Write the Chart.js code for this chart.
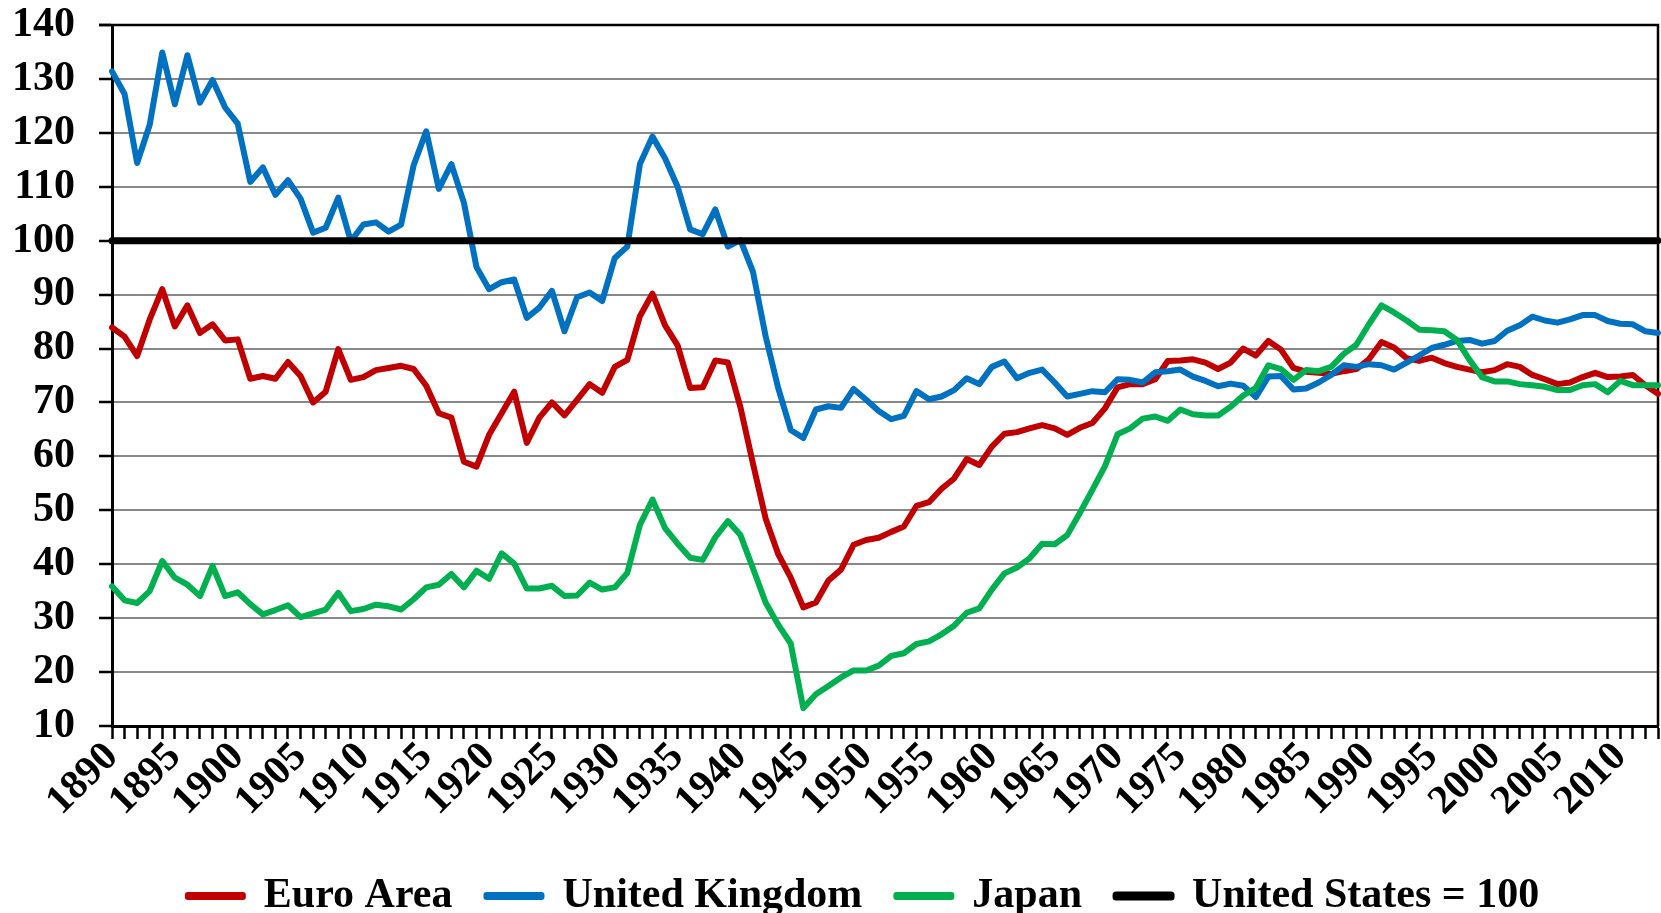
<!DOCTYPE html>
<html>
<head>
<meta charset="utf-8">
<script src="https://cdn.jsdelivr.net/npm/chart.js@4/dist/chart.umd.min.js"></script>
<style>
  body { margin: 0; background: #fff; }
  #wrap { width: 1661px; height: 913px; }
</style>
</head>
<body>
<div id="wrap"><canvas id="chart"></canvas></div>
<script>
// Années (axe des x)
const years = [
  1890, 1891, 1892, 1893, 1894, 1895, 1896, 1897, 1898, 1899,
  1900, 1901, 1902, 1903, 1904, 1905, 1906, 1907, 1908, 1909,
  1910, 1911, 1912, 1913, 1914, 1915, 1916, 1917, 1918, 1919,
  1920, 1921, 1922, 1923, 1924, 1925, 1926, 1927, 1928, 1929,
  1930, 1931, 1932, 1933, 1934, 1935, 1936, 1937, 1938, 1939,
  1940, 1941, 1942, 1943, 1944, 1945, 1946, 1947, 1948, 1949,
  1950, 1951, 1952, 1953, 1954, 1955, 1956, 1957, 1958, 1959,
  1960, 1961, 1962, 1963, 1964, 1965, 1966, 1967, 1968, 1969,
  1970, 1971, 1972, 1973, 1974, 1975, 1976, 1977, 1978, 1979,
  1980, 1981, 1982, 1983, 1984, 1985, 1986, 1987, 1988, 1989,
  1990, 1991, 1992, 1993, 1994, 1995, 1996, 1997, 1998, 1999,
  2000, 2001, 2002, 2003, 2004, 2005, 2006, 2007, 2008, 2009,
  2010, 2011, 2012, 2013
];

// Séries (États-Unis = 100)
const euroArea = [
  83.9, 82.2, 78.6, 85.4, 91.0, 84.1, 88.0, 82.9, 84.5, 81.5,
  81.7, 74.4, 74.9, 74.4, 77.5, 74.9, 70.0, 72.0, 79.9, 74.2,
  74.7, 76.0, 76.4, 76.8, 76.2, 73.1, 68.0, 67.2, 59.0, 58.1,
  64.0, 68.0, 72.0, 62.5, 67.2, 70.0, 67.6, 70.5, 73.4, 71.8,
  76.6, 77.9, 86.0, 90.2, 84.3, 80.6, 72.7, 72.8, 77.8, 77.4,
  69.1, 58.6, 48.5, 41.9, 37.5, 32.0, 32.9, 37.0, 39.0, 43.6,
  44.5, 44.9, 46.0, 47.0, 50.8, 51.5, 54.0, 55.9, 59.5, 58.4,
  61.8, 64.2, 64.5, 65.2, 65.8, 65.2, 64.0, 65.3, 66.2, 68.9,
  72.8, 73.4, 73.4, 74.3, 77.7, 77.8, 78.0, 77.4, 76.2, 77.4,
  80.0, 78.7, 81.4, 79.8, 76.4, 75.7, 75.5, 75.3, 75.8, 76.2,
  78.0, 81.2, 80.2, 78.2, 77.7, 78.3, 77.3, 76.6, 76.1, 75.6,
  76.0, 77.1, 76.6, 75.1, 74.3, 73.4, 73.7, 74.7, 75.5, 74.7,
  74.8, 75.1, 73.2, 71.6
];

const unitedKingdom = [
  131.4, 127.2, 114.4, 121.5, 134.9, 125.3, 134.4, 125.6, 129.8, 124.7,
  121.7, 110.9, 113.6, 108.5, 111.2, 107.8, 101.5, 102.4, 108.0, 99.9,
  103.0, 103.4, 101.7, 103.0, 114.0, 120.3, 109.6, 114.2, 107.0, 95.1,
  91.0, 92.3, 92.8, 85.7, 87.6, 90.7, 83.2, 89.5, 90.4, 88.8,
  96.8, 98.9, 114.2, 119.3, 115.3, 110.0, 102.1, 101.2, 105.8, 98.9,
  100.1, 94.2, 82.3, 72.7, 64.9, 63.4, 68.7, 69.3, 69.0, 72.5,
  70.5, 68.4, 66.9, 67.5, 72.1, 70.6, 71.1, 72.3, 74.5, 73.4,
  76.6, 77.6, 74.5, 75.5, 76.1, 73.7, 71.1, 71.6, 72.1, 71.9,
  74.3, 74.2, 73.7, 75.6, 75.8, 76.1, 74.8, 74.0, 73.0, 73.5,
  73.1, 71.0, 74.8, 74.9, 72.4, 72.6, 73.7, 75.1, 76.9, 76.6,
  77.1, 76.9, 76.1, 77.4, 78.7, 80.1, 80.7, 81.4, 81.6, 80.9,
  81.4, 83.3, 84.3, 85.9, 85.2, 84.8, 85.4, 86.2, 86.2, 85.1,
  84.6, 84.5, 83.2, 82.9
];

const japan = [
  35.9, 33.3, 32.8, 35.0, 40.6, 37.5, 36.2, 34.1, 39.7, 34.1,
  34.8, 32.6, 30.7, 31.5, 32.4, 30.2, 30.9, 31.6, 34.7, 31.3,
  31.7, 32.5, 32.2, 31.6, 33.5, 35.7, 36.2, 38.2, 35.7, 38.8,
  37.3, 42.0, 40.1, 35.5, 35.5, 36.0, 34.1, 34.2, 36.6, 35.3,
  35.7, 38.4, 47.3, 52.0, 46.7, 43.8, 41.2, 40.8, 45.0, 48.0,
  45.4, 39.2, 32.9, 28.8, 25.3, 13.3, 15.9, 17.4, 19.0, 20.3,
  20.3, 21.2, 23.0, 23.5, 25.2, 25.7, 27.0, 28.6, 31.0, 31.8,
  35.3, 38.3, 39.4, 41.1, 43.8, 43.7, 45.4, 49.5, 53.8, 58.2,
  64.1, 65.2, 67.0, 67.4, 66.6, 68.7, 67.8, 67.6, 67.6, 69.2,
  71.3, 72.7, 76.9, 76.2, 74.2, 76.0, 75.8, 76.6, 79.0, 80.7,
  84.5, 88.0, 86.7, 85.2, 83.5, 83.4, 83.2, 81.6, 77.9, 74.7,
  73.9, 73.9, 73.4, 73.2, 72.9, 72.3, 72.3, 73.2, 73.4, 71.9,
  74.0, 73.2, 73.2, 73.2
];

const unitedStates = [
  100, 100, 100, 100, 100, 100, 100, 100, 100, 100,
  100, 100, 100, 100, 100, 100, 100, 100, 100, 100,
  100, 100, 100, 100, 100, 100, 100, 100, 100, 100,
  100, 100, 100, 100, 100, 100, 100, 100, 100, 100,
  100, 100, 100, 100, 100, 100, 100, 100, 100, 100,
  100, 100, 100, 100, 100, 100, 100, 100, 100, 100,
  100, 100, 100, 100, 100, 100, 100, 100, 100, 100,
  100, 100, 100, 100, 100, 100, 100, 100, 100, 100,
  100, 100, 100, 100, 100, 100, 100, 100, 100, 100,
  100, 100, 100, 100, 100, 100, 100, 100, 100, 100,
  100, 100, 100, 100, 100, 100, 100, 100, 100, 100,
  100, 100, 100, 100, 100, 100, 100, 100, 100, 100,
  100, 100, 100, 100
];

const seriesNames = ["Euro Area", "United Kingdom", "Japan", "United States = 100"];

const serif = '"Liberation Serif", "Times New Roman", serif';

// Cadre noir (haut et droite) autour de la zone de tracé
const frame = {
  id: 'frame',
  beforeDatasetsDraw(chart) {
    const { ctx, chartArea: a } = chart;
    ctx.save();
    ctx.strokeStyle = '#000';
    ctx.lineWidth = 2.5;
    ctx.beginPath();
    ctx.moveTo(a.left - 13, a.top);
    ctx.lineTo(a.right, a.top);
    ctx.lineTo(a.right, a.bottom);
    ctx.stroke();
    ctx.restore();
  }
};

// Décaler la légende un peu vers la droite (centrée sous la zone de tracé)
const legendShift = {
  id: 'legendShift',
  afterLayout(chart) {
    if (chart.legend) {
      chart.legend.left += 28;
      chart.legend.right += 28;
    }
  }
};

function line(label, data, color, width, order) {
  return {
    label: label,
    data: data,
    borderColor: color,
    backgroundColor: color,
    borderWidth: width,
    pointRadius: 0,
    tension: 0,
    borderJoinStyle: 'round',
    borderCapStyle: 'round',
    order: order
  };
}

const ctx = document.getElementById('chart').getContext('2d');
new Chart(ctx, {
  type: 'line',
  data: {
    labels: years,
    datasets: [
      line(seriesNames[0], euroArea, '#C00000', 6, 4),
      line(seriesNames[1], unitedKingdom, '#0070C0', 6, 3),
      line(seriesNames[2], japan, '#00B050', 6, 2),
      line(seriesNames[3], unitedStates, '#000000', 7, 1)
    ]
  },
  options: {
    responsive: true,
    maintainAspectRatio: false,
    animation: false,
    layout: { padding: { left: 13, right: 3, top: 25, bottom: -14 } },
    plugins: {
      tooltip: { enabled: false },
      legend: {
        position: 'bottom',
        labels: {
          color: '#000',
          font: { family: serif, size: 42, weight: 'bold' },
          boxWidth: 55,
          boxHeight: 2,
          padding: 34,
          sort: (a, b) => a.datasetIndex - b.datasetIndex
        }
      }
    },
    scales: {
      x: {
        offset: false,
        afterFit(scale) {
          scale.paddingLeft = 0;
          scale.paddingRight = 0;
          scale.height = 115;
        },
        grid: {
          drawOnChartArea: false,
          drawTicks: true,
          tickLength: 13,
          tickColor: '#000',
          tickWidth: 2.5
        },
        border: { color: '#000', width: 3 },
        ticks: {
          autoSkip: false,
          maxRotation: 45,
          minRotation: 45,
          color: '#000',
          padding: -6,
          font: { family: serif, size: 41, weight: 'bold' },
          callback: function (value, index) {
            const y = years[index];
            return y % 5 === 0 ? String(y) : '';
          }
        }
      },
      y: {
        min: 10,
        max: 140,
        afterFit(scale) {
          scale.paddingTop = 0;
          scale.width = 99;
        },
        grid: {
          color: '#888888',
          lineWidth: 2,
          tickLength: 13,
          tickColor: '#000',
          tickWidth: 2.5
        },
        border: { color: '#000', width: 3 },
        ticks: {
          autoSkip: false,
          stepSize: 10,
          color: '#000',
          padding: 24,
          font: { family: serif, size: 42, weight: 'bold' }
        }
      }
    }
  },
  plugins: [frame, legendShift]
});
</script>
</body>
</html>
